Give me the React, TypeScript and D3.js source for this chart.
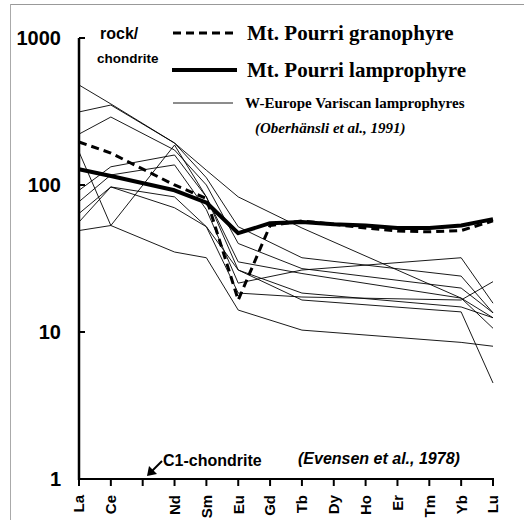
import React from "react";
import * as d3 from "d3";

const elements = ["La", "Ce", "Pr", "Nd", "Sm", "Eu", "Gd", "Tb", "Dy", "Ho", "Er", "Tm", "Yb", "Lu"];
const tickLabels = ["La", "Ce", "", "Nd", "Sm", "Eu", "Gd", "Tb", "Dy", "Ho", "Er", "Tm", "Yb", "Lu"];
const yTicks = [1, 10, 100, 1000];

const mpElements = ["La", "Ce", "Nd", "Sm", "Eu", "Gd", "Tb", "Dy", "Ho", "Er", "Tm", "Yb", "Lu"];
const granophyre = [196, 165, 100, 81, 16.5, 53, 57, 54, 51, 48.7, 48, 49, 57];
const lamprophyre = [128, 115, 92, 76, 47, 55, 56, 54, 53, 51, 51, 53, 58.6];

const variscanElements = ["La", "Ce", "Nd", "Sm", "Eu", "Tb", "Yb", "Lu"];
const variscan1 = [479, 356, 193, 126, 83, 51, 17, 12.5];
const variscan2 = [314, 350, 193, 112, 52, 32, 24, 13.5];
const variscan3 = [222, 290, 173, 100, 40, 27, 19.9, 13.5];
const variscan4 = [168, 53, 187, 83, 30, 25, 17, 10.6];
const variscan5 = [92, 133, 160, 83, 26.4, 18.4, 14.8, 12.5];
const variscan6 = [77, 117, 137, 68, 21.5, 26.4, 32, 15.7];
const variscan7 = [64, 97, 83, 52, 18.4, 17.3, 16.5, 22];
const variscan8 = [56, 97, 70, 52, 26.4, 16.5, 13.7, 4.5];
const variscan9 = [49, 53, 35, 32, 14.1, 10.3, 8.5, 8.0];
const variscan = [variscan1, variscan2, variscan3, variscan4, variscan5, variscan6, variscan7, variscan8, variscan9];

const SANS = "'Liberation Sans', Arial, sans-serif";
const SERIF = "'Liberation Serif', 'Times New Roman', serif";

export default function App() {
  const x = d3.scalePoint<string>().domain(elements).range([79, 493]);
  const y = d3.scaleLog().domain([1, 1000]).range([479, 38]);

  const mkLine = (keys: string[]) =>
    d3
      .line<number>()
      .x((_, i) => x(keys[i]) as number)
      .y((d) => y(d));

  const thinLine = mkLine(variscanElements);
  const mpLine = mkLine(mpElements);

  return (
    <svg
      width={524}
      height={525}
      style={{ position: "absolute", left: 0, top: 0, background: "#fff" }}
    >
      <rect x={0} y={0} width={524} height={525} fill="#fff" />
      {/* scan frame */}
      <line x1={10} y1={4.5} x2={524} y2={4.5} stroke="#999" strokeWidth={1} />
      <line x1={10.5} y1={4} x2={10.5} y2={520} stroke="#aaa" strokeWidth={1} />

      {/* variscan lines */}
      {variscan.map((s, i) => (
        <path key={i} d={thinLine(s) || ""} fill="none" stroke="#000" strokeWidth={0.9} />
      ))}

      {/* granophyre dashed */}
      <path
        d={mpLine(granophyre) || ""}
        fill="none"
        stroke="#000"
        strokeWidth={3}
        strokeDasharray="8,5"
      />
      {/* lamprophyre thick */}
      <path d={mpLine(lamprophyre) || ""} fill="none" stroke="#000" strokeWidth={4} strokeLinejoin="round" />

      {/* y axis */}
      <line x1={79} y1={y(1000)} x2={79} y2={y(1) + 1} stroke="#000" strokeWidth={2.5} />
      {yTicks.map((t) => (
        <g key={t}>
          {t > 1 && <line x1={79} x2={85} y1={y(t)} y2={y(t)} stroke="#000" strokeWidth={2} />}
          <text
            x={61}
            y={y(t)}
            dy="0.36em"
            textAnchor="end"
            fontFamily={SANS}
            fontWeight="bold"
            fontSize={20}
          >
            {t}
          </text>
        </g>
      ))}

      {/* x axis */}
      <line x1={78} y1={479} x2={494} y2={479} stroke="#000" strokeWidth={2} />
      {elements.map((e, i) => (
        <g key={e}>
          <line x1={x(e)} x2={x(e)} y1={479} y2={486} stroke="#000" strokeWidth={2} />
          {tickLabels[i] && (
            <text
              transform={`translate(${x(e)},495) rotate(-90)`}
              dy="0.36em"
              textAnchor="end"
              fontFamily={SANS}
              fontWeight="bold"
              fontSize={15}
            >
              {tickLabels[i]}
            </text>
          )}
        </g>
      ))}

      {/* axis title */}
      <text x={100} y={39} fontFamily={SANS} fontWeight="bold" fontSize={16}>
        rock/
      </text>
      <text x={97} y={63} fontFamily={SANS} fontWeight="bold" fontSize={13.5}>
        chondrite
      </text>

      {/* legend */}
      <line x1={173} x2={237} y1={33} y2={33} stroke="#000" strokeWidth={3} strokeDasharray="8,5" />
      <text x={247} y={40} fontFamily={SERIF} fontWeight="bold" fontSize={21}>
        Mt. Pourri granophyre
      </text>
      <line x1={172} x2={237} y1={70} y2={70} stroke="#000" strokeWidth={4} />
      <text x={247} y={77} fontFamily={SERIF} fontWeight="bold" fontSize={21}>
        Mt. Pourri lamprophyre
      </text>
      <line x1={173} x2={233} y1={103} y2={103} stroke="#000" strokeWidth={0.9} />
      <text x={245} y={108} fontFamily={SERIF} fontWeight="bold" fontSize={15}>
        W-Europe Variscan lamprophyres
      </text>
      <text x={255} y={133} fontFamily={SERIF} fontWeight="bold" fontStyle="italic" fontSize={15}>
        (Oberhänsli et al., 1991)
      </text>

      {/* bottom annotations */}
      <text x={163} y={466} fontFamily={SANS} fontWeight="bold" fontSize={16}>
        C1-chondrite
      </text>
      <line x1={162} y1={461} x2={150} y2={473} stroke="#000" strokeWidth={2} />
      <path d="M147,476 L149,466 L157,474 Z" fill="#000" />
      <text x={298} y={464} fontFamily={SANS} fontWeight="bold" fontStyle="italic" fontSize={16}>
        (Evensen et al., 1978)
      </text>
    </svg>
  );
}
